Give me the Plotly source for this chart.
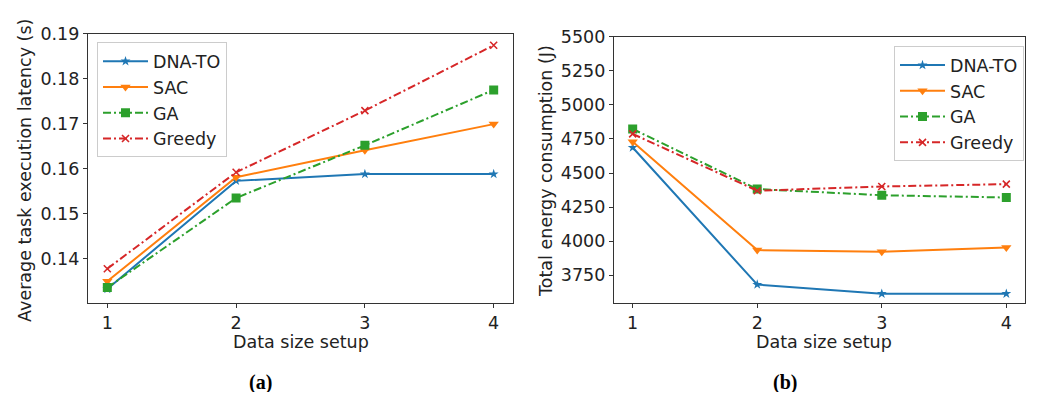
import plotly.graph_objects as go

# ---- data ----
data_size = [1, 2, 3, 4]
methods = ["DNA-TO", "SAC", "GA", "Greedy"]

latency_dnato = [0.1333, 0.1573, 0.1588, 0.1588]
latency_sac = [0.1350, 0.1581, 0.1641, 0.1699]
latency_ga = [0.1336, 0.1535, 0.1652, 0.1775]
latency_greedy = [0.1378, 0.1592, 0.1729, 0.1874]

energy_dnato = [4687, 3681, 3614, 3614]
energy_sac = [4730, 3934, 3922, 3953]
energy_ga = [4823, 4382, 4337, 4320]
energy_greedy = [4787, 4370, 4401, 4418]

latency_ticks = [0.14, 0.15, 0.16, 0.17, 0.18, 0.19]
energy_ticks = [3750, 4000, 4250, 4500, 4750, 5000, 5250, 5500]

# ---- styles ----
colors = ["#1f77b4", "#ff7f0e", "#2ca02c", "#d62728"]
symbols = ["star", "triangle-down", "square", "x-thin"]
msizes = [7.5, 9, 9, 7]
dashdot = "8px,3px,2px,3px"
dashes = ["solid", "solid", dashdot, dashdot]

# page body has an 8px margin; figure is sized to fit the 1042x400 window
PAD = 8
W, H = 1042 - 2 * PAD, 400 - 2 * PAD
FONT = "DejaVu Sans"
FS = 17.5
TXT = "#222222"


def px(x):
    return (x - PAD) / W


def py(y):
    return 1 - (y - PAD) / H


fig = go.Figure()

lat_series = [latency_dnato, latency_sac, latency_ga, latency_greedy]
en_series = [energy_dnato, energy_sac, energy_ga, energy_greedy]


def marker(i):
    return dict(symbol=symbols[i], size=msizes[i], color=colors[i],
                line=dict(width=1.6 if symbols[i] == "x-thin" else 0, color=colors[i]))


for i, name in enumerate(methods):
    fig.add_trace(go.Scatter(
        x=data_size, y=lat_series[i], name=name, mode="lines+markers",
        line=dict(color=colors[i], width=2, dash=dashes[i]), marker=marker(i),
        xaxis="x", yaxis="y", legend="legend"))
for i, name in enumerate(methods):
    fig.add_trace(go.Scatter(
        x=data_size, y=en_series[i], name=name, mode="lines+markers",
        line=dict(color=colors[i], width=2, dash=dashes[i]), marker=marker(i),
        xaxis="x2", yaxis="y2", legend="legend2"))

axis_common = dict(showline=True, mirror=True, linecolor="#333333", linewidth=1.2,
                   ticks="outside", ticklen=4, tickwidth=1.2, tickcolor="#333333",
                   showgrid=False, zeroline=False,
                   tickfont=dict(family=FONT, size=FS, color=TXT))

legend_common = dict(bgcolor="rgba(255,255,255,0.8)", bordercolor="#cccccc", borderwidth=1,
                     itemwidth=45,
                     font=dict(family=FONT, size=FS, color=TXT))

fig.update_layout(
    width=W, height=H, autosize=False,
    margin=dict(l=0, r=0, t=0, b=0),
    paper_bgcolor="white", plot_bgcolor="white",
    font=dict(family=FONT, size=FS, color=TXT),
    xaxis=dict(domain=[px(88), px(513)], range=[0.85, 4.15], tickvals=data_size,
               anchor="y", **axis_common),
    yaxis=dict(domain=[py(301), py(24)], range=[0.1301, 0.19], tickvals=latency_ticks,
               tickformat=".2f", anchor="x", **axis_common),
    xaxis2=dict(domain=[px(614), px(1025)], range=[0.85, 4.15], tickvals=data_size,
                anchor="y2", **axis_common),
    yaxis2=dict(domain=[py(301), py(27.3)], range=[3543, 5500], tickvals=energy_ticks,
                anchor="x2", **axis_common),
    legend=dict(x=px(97), y=py(33), xanchor="left", yanchor="top", **legend_common),
    legend2=dict(x=px(1024), y=py(37), xanchor="right", yanchor="top", **legend_common),
)

annos = [
    dict(text="Average task execution latency (s)", x=px(25), y=py(165), textangle=-90),
    dict(text="Total energy consumption (J)", x=px(546), y=py(165), textangle=-90),
    dict(text="Data size setup", x=px(301), y=py(341)),
    dict(text="Data size setup", x=px(824), y=py(341)),
]
for a in annos:
    fig.add_annotation(xref="paper", yref="paper", showarrow=False,
                       xanchor="center", yanchor="middle",
                       font=dict(family=FONT, size=FS, color=TXT), **a)

for lab, xc in [("(a)", 260), ("(b)", 785)]:
    fig.add_annotation(xref="paper", yref="paper", showarrow=False,
                       x=px(xc), y=py(382), xanchor="center", yanchor="middle",
                       text="<b>" + lab + "</b>",
                       font=dict(family="Liberation Serif", size=20, color="black"))

fig.write_html("out.html")
